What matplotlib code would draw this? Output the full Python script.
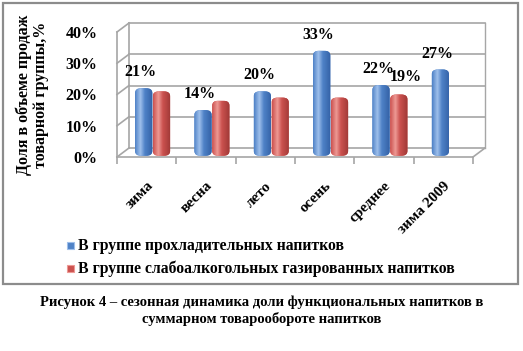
import numpy as np
import matplotlib.pyplot as plt
from matplotlib.patches import Rectangle, FancyBboxPatch

categories = ['зима', 'весна', 'лето', 'осень', 'среднее', 'зима 2009']
cool_drinks = [0.21, 0.14, 0.20, 0.33, 0.22, 0.27]
low_alc = [0.20, 0.17, 0.18, 0.18, 0.19, None]
cool_labels = ['21%', '14%', '20%', '33%', '22%', '27%']
low_alc_labels = [None, None, None, None, '19%', None]
yticks = [0, 0.1, 0.2, 0.3, 0.4]
ytick_labels = ['0%', '10%', '20%', '30%', '40%']

series_names = ['В группе прохладительных напитков',
                'В группе слабоалкогольных газированных напитков']
caption = ('Рисунок 4 – сезонная динамика доли функциональных напитков в\n'
           'суммарном товарообороте напитков')

plt.rcParams['font.family'] = ['Liberation Serif', 'DejaVu Serif']
plt.rcParams['font.weight'] = 'bold'
plt.rcParams['axes.labelweight'] = 'bold'

W, H = 523, 351
fig = plt.figure(figsize=(W / 100, H / 100), dpi=100)

# chart frame
frame = Rectangle((3 / W, 1 - 284 / H), 515 / W, 281 / H, transform=fig.transFigure,
                  facecolor='white', edgecolor='#8c8c8c', linewidth=1.6, zorder=-5)
fig.patches.append(frame)

ax = fig.add_axes([117 / W, 1 - 157 / H, 356 / W, 125 / H])
ax.set_zorder(5)
ax.patch.set_alpha(0)
for s in ax.spines.values():
    s.set_visible(False)

# back wall grid lines (3D look)
gc = '#a6a6a6'
dx, dy = 12 / 356 * 6, 9 / 125 * 0.4
for t in yticks:
    ax.plot([-0.5 + dx, 5.5 + dx], [t + dy, t + dy], color=gc, lw=1.2, clip_on=False, zorder=0)
    ax.plot([-0.5, -0.5 + dx], [t, t + dy], color=gc, lw=1.2, clip_on=False, zorder=0)
ax.plot([-0.5 + dx, -0.5 + dx], [dy, 0.4 + dy], color=gc, lw=1.2, clip_on=False, zorder=0)
ax.plot([5.5 + dx, 5.5 + dx], [dy, 0.4 + dy], color=gc, lw=1.0, clip_on=False, zorder=0)
ax.plot([5.5, 5.5 + dx], [0, dy], color=gc, lw=1.2, clip_on=False, zorder=0)
ax.plot([-0.5, -0.5], [0, 0.4], color=gc, lw=1.2, clip_on=False, zorder=0)
ax.plot([-0.5, 5.5], [0, 0], color=gc, lw=1.2, clip_on=False, zorder=0)

ax.set_yticks(yticks)
ax.set_yticklabels(ytick_labels, fontsize=11.5)
ax.tick_params(axis='y', length=0, pad=14)
ax.set_xticks(np.arange(-0.5, 6, 1), minor=True)
ax.tick_params(axis='x', which='minor', length=5, color=gc, width=1.2)
ax.set_xticks(np.arange(len(categories)))
ax.set_xticklabels(categories, rotation=45, ha='right', rotation_mode='anchor', fontsize=11)
ax.tick_params(axis='x', which='major', length=0, pad=16)

ax.set_ylabel('Доля в объеме продаж\nтоварной группы,%', fontsize=11.5, labelpad=12,
              linespacing=1.05)

width = 0.29
base = 0.004


def draw_bar(x, h, dark, mid, light):
    pts = np.linspace(0, 1, 64)
    cols = np.zeros((1, 64, 3))
    for k in range(3):
        cols[0, :, k] = np.interp(pts, [0, 0.3, 0.55, 1], [mid[k], light[k], mid[k], dark[k]])
    patch = FancyBboxPatch((x - width / 2, base), width, h + 0.01 - base,
                           boxstyle='round,pad=0,rounding_size=0.1',
                           mutation_aspect=0.15,
                           facecolor=mid, edgecolor='none', zorder=3)
    ax.add_patch(patch)
    im = ax.imshow(cols, extent=(x - width / 2, x + width / 2, base, h + 0.01), aspect='auto',
                   zorder=4)
    im.set_clip_path(patch)


blue = ((0.20, 0.38, 0.65), (0.31, 0.51, 0.78), (0.62, 0.75, 0.92))
red = ((0.62, 0.22, 0.21), (0.80, 0.32, 0.31), (0.93, 0.60, 0.58))

x = np.arange(len(categories))
off = 0.1
for i in range(len(categories)):
    draw_bar(x[i] + off - 0.15, cool_drinks[i], *blue)
    if low_alc[i] is not None:
        draw_bar(x[i] + off + 0.15, low_alc[i], *red)
    ax.annotate(cool_labels[i], (x[i] + off - 0.2, cool_drinks[i]), xytext=(0, 8),
                textcoords='offset points', ha='center', va='bottom', fontsize=11.5)
    if low_alc_labels[i]:
        ax.annotate(low_alc_labels[i], (x[i] + off + 0.26, low_alc[i]), xytext=(0, 9),
                    textcoords='offset points', ha='center', va='bottom', fontsize=11.5)
ax.set_xlim(-0.5, len(categories) - 0.5)
ax.set_ylim(0, 0.4)

# legend
for j, (name, col) in enumerate(zip(series_names, [blue, red])):
    yy = 1 - (246 + 23 * j) / H
    fig.patches.append(Rectangle((67 / W, yy - 3 / H), 7 / W, 7 / H, transform=fig.transFigure,
                                 facecolor=col[1], edgecolor=col[2], lw=0.8))
    fig.text(78 / W, yy, name, fontsize=11.3, va='center', ha='left')

fig.text(0.5, 1 - 311 / H, caption, fontsize=10.5, ha='center', va='center',
         linespacing=1.3)

fig.savefig('out.png', dpi=100)
